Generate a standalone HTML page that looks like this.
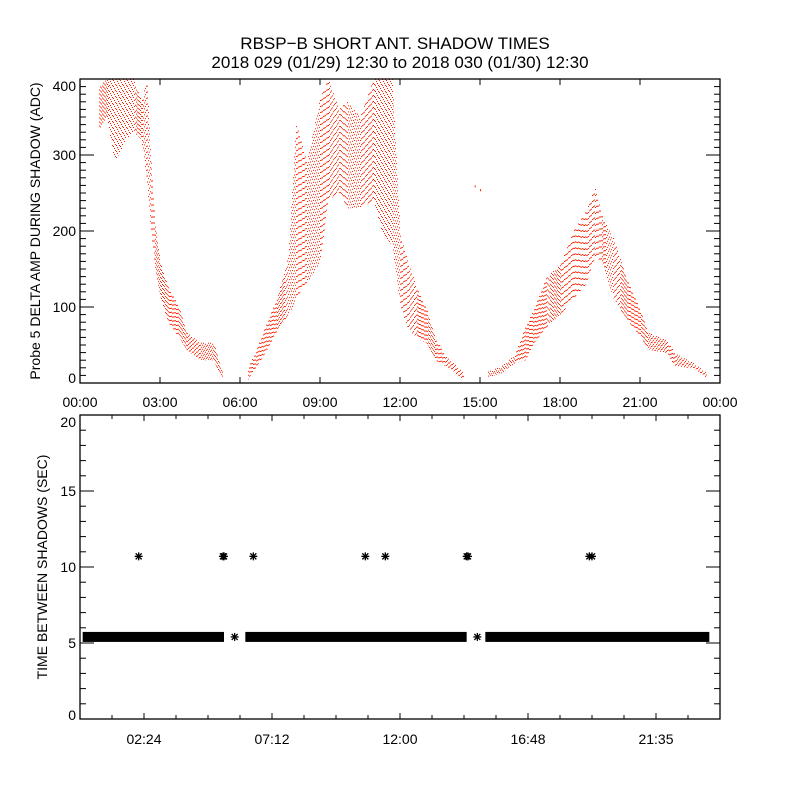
<!DOCTYPE html>
<html><head><meta charset="utf-8"><style>
html,body{margin:0;padding:0;background:#fff}
svg{display:block;font-family:"Liberation Sans",sans-serif}
</style></head><body>
<svg id="chart" xmlns="http://www.w3.org/2000/svg" width="800" height="800" viewBox="0 0 800 800">
<rect x="0" y="0" width="800" height="800" fill="#fff"/>
<text x="395" y="49" font-size="17" text-anchor="middle">RBSP−B SHORT ANT. SHADOW TIMES</text>
<text x="400" y="68" font-size="17" text-anchor="middle">2018 029 (01/29) 12:30 to 2018 030 (01/30) 12:30</text>
<g id="topPanel"></g>
<g id="botPanel"></g>
</svg>
<script>
// ---- top panel data: band (lo/hi) of delta amplitude vs hour ----
const ampHours = [0.68,1.0,1.3,1.7,2.0,2.3,2.5,2.65,2.8,3.0,3.3,3.7,4.0,4.5,5.0,5.2,5.35,
  6.3,6.6,7.0,7.4,7.8,8.1,8.5,9.0,9.3,9.7,10.0,10.5,11.0,11.3,11.7,12.0,12.3,12.7,13.0,13.3,13.7,14.0,14.4,
  15.3,15.8,16.3,16.7,17.0,17.5,18.0,18.5,19.0,19.3,19.6,20.0,20.5,21.0,21.3,22.0,22.3,23.0,23.5];
const ampLo = [332,350,290,320,330,320,265,201,152,113,79,60,43,30,30,12,5,
  5,21,43,70,87,113,130,160,240,250,230,230,240,200,180,100,70,57,52,30,22,15,3,
  7,13,26,30,52,74,90,110,132,167,155,110,83,61,44,39,22,19,6];
const ampHi = [389,400,400,400,400,370,400,297,213,158,126,100,66,53,53,30,12,
  20,43,79,113,166,342,290,375,400,360,370,350,400,400,400,195,158,118,96,60,35,26,12,
  15,22,37,74,96,140,155,200,228,257,216,190,136,96,66,56,39,26,13];
const ampSegments = [[0,16],[17,39],[40,58]];
const strayHours = [14.8, 15.0];
const strayVals = [260, 255];
const ampYTicks = [0,100,200,300,400];
const ampXTickLabels = ["00:00","03:00","06:00","09:00","12:00","15:00","18:00","21:00","00:00"];

// ---- bottom panel data ----
const runStart = [0.1, 6.2, 15.2];
const runEnd = [5.4, 14.5, 23.6];
const runValue = [5.4, 5.4, 5.4];
const outlierHours = [2.2, 5.36, 5.4, 5.8, 6.5, 10.7, 11.45, 14.5, 14.55, 14.9, 19.1, 19.2];
const outlierVals = [10.7, 10.7, 10.7, 5.4, 10.7, 10.7, 10.7, 10.7, 10.7, 5.4, 10.7, 10.7];
const intYTicks = [0,5,10,15,20];
const intXTickLabels = ["02:24","07:12","12:00","16:48","21:35"];
const intXTickHours = [2.4,7.2,12.0,16.8,21.6];

const NS="http://www.w3.org/2000/svg";
function mk(tag, parent, attrs){const e=document.createElementNS(NS,tag);for(const k in attrs)e.setAttribute(k,attrs[k]);parent.appendChild(e);return e;}

// axes geometry
const L=80,R=720, T1=79,B1=383, T2=415,B2=719;
const xs=h=>L+h*(R-L)/24;
const y1=v=>B1-v*(B1-T1)/400;
const y2=v=>B2-v*(B2-T2)/20;

const topG=document.getElementById('topPanel');
const botG=document.getElementById('botPanel');

// ---- top panel marks ----
const clip=mk('clipPath',topG,{id:'c1'});
mk('rect',clip,{x:L,y:T1,width:R-L,height:B1-T1});
const dots=mk('g',topG,{'clip-path':'url(#c1)'});


ampSegments.forEach(([a,b])=>{
  for(let i=a;i<b;i++){
    const x0=xs(ampHours[i]), x1=xs(ampHours[i+1]);
    for(let x=Math.ceil(x0);x<x1;x+=1){
      const t=(x-x0)/(x1-x0);
      const lo=ampLo[i]+(ampLo[i+1]-ampLo[i])*t, hi=ampHi[i]+(ampHi[i+1]-ampHi[i])*t;
      const ya=y1(hi), yb=y1(lo);
      const gap=(yb-ya)>50?5:3;
      const ln=mk('line',dots,{x1:x+0.5,x2:x+0.5,y1:ya,y2:yb,stroke:'#ff2000','stroke-width':1,'stroke-dasharray':'1 '+(gap+(x*3)%3),'stroke-dashoffset':(x*5)%7});
      
      
    }
  }
});
strayHours.forEach((h,i)=>{
  const r=mk('rect',dots,{x:xs(h),y:y1(strayVals[i]),width:1,height:2,fill:'#ff2000'});
  
  
});

// top frame + ticks
const f1=mk('rect',topG,{x:L,y:T1,width:R-L,height:B1-T1,fill:'none',stroke:'#000','stroke-width':1.3});


for(let v=0;v<=400;v+=10){
  const major=v%100===0, len=major?14:6;
  mk('line',topG,{x1:L,x2:L+len,y1:y1(v),y2:y1(v),stroke:'#000'});
  mk('line',topG,{x1:R,x2:R-len,y1:y1(v),y2:y1(v),stroke:'#000'});
}
ampYTicks.forEach(v=>{
  const yy=Math.min(Math.max(y1(v),T1+7),B1-5);
  const t=mk('text',topG,{x:76,y:yy+5,'font-size':14,'text-anchor':'end'});
  t.textContent=v;
  
  
});
ampXTickLabels.forEach((s,i)=>{
  const x=xs(i*3);
  mk('line',topG,{x1:x,x2:x,y1:B1,y2:B1-6,stroke:'#000'});
  mk('line',topG,{x1:x,x2:x,y1:T1,y2:T1+6,stroke:'#000'});
  const t=mk('text',topG,{x:x,y:407,'font-size':14,'text-anchor':'middle'});
  t.textContent=s;
  
  
});
const yt1=mk('text',topG,{x:0,y:0,'font-size':14,'text-anchor':'middle',transform:'translate(40,231) rotate(-90)'});
yt1.textContent='Probe 5 DELTA AMP DURING SHADOW (ADC)';



// ---- bottom panel ----
function star(parent,x,y){
  const g=mk('g',parent,{stroke:'#000','stroke-width':1.3});
  
  
  mk('line',g,{x1:x-4,x2:x+4,y1:y,y2:y});
  mk('line',g,{x1:x,x2:x,y1:y-4,y2:y+4});
  mk('line',g,{x1:x-3,x2:x+3,y1:y-3,y2:y+3});
  mk('line',g,{x1:x-3,x2:x+3,y1:y+3,y2:y-3});
}
runStart.forEach((h,i)=>{
  const r=mk('rect',botG,{x:xs(h),y:y2(runValue[i])-5,width:xs(runEnd[i])-xs(h),height:10,fill:'#000'});
  
  
});
outlierHours.forEach((h,i)=>star(botG,xs(h),y2(outlierVals[i])));

const f2=mk('rect',botG,{x:L,y:T2,width:R-L,height:B2-T2,fill:'none',stroke:'#000','stroke-width':1.3});


for(let v=0;v<=20;v+=1){
  const major=v%5===0, len=major?14:6;
  mk('line',botG,{x1:L,x2:L+len,y1:y2(v),y2:y2(v),stroke:'#000'});
  mk('line',botG,{x1:R,x2:R-len,y1:y2(v),y2:y2(v),stroke:'#000'});
}
intYTicks.forEach(v=>{
  const yy=Math.min(Math.max(y2(v),T2+7),B2-4);
  const t=mk('text',botG,{x:76,y:yy+5,'font-size':14,'text-anchor':'end'});
  t.textContent=v;
  
  
});
for(let k=1;k<20;k++){
  const x=xs(k*1.2), major=k%4===2;
  const len=major?6:4;
  mk('line',botG,{x1:x,x2:x,y1:B2,y2:B2-len,stroke:'#000'});
  mk('line',botG,{x1:x,x2:x,y1:T2,y2:T2+len,stroke:'#000'});
}
intXTickLabels.forEach((s,i)=>{
  const t=mk('text',botG,{x:xs(intXTickHours[i]),y:744,'font-size':14,'text-anchor':'middle'});
  t.textContent=s;
  
  
});
const yt2=mk('text',botG,{x:0,y:0,'font-size':14,'text-anchor':'middle',transform:'translate(47,567) rotate(-90)'});
yt2.textContent='TIME BETWEEN SHADOWS (SEC)';


</script>
</body></html>
